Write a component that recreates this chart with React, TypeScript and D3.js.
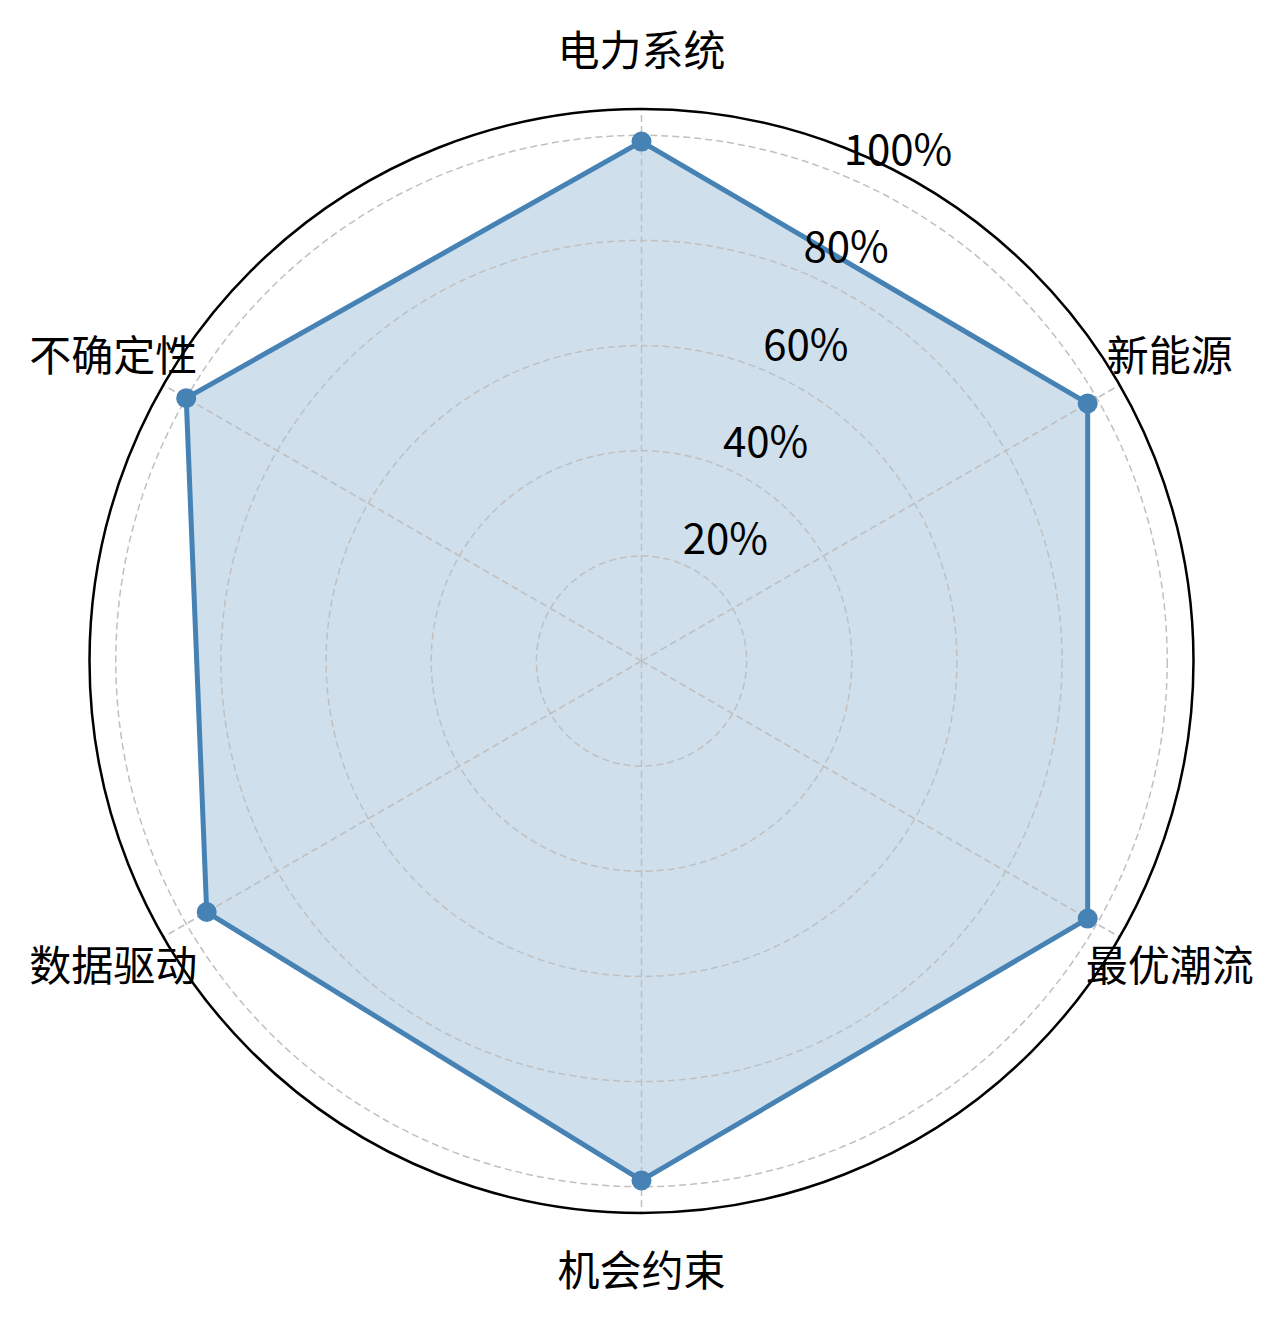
import React from "react";
import * as d3 from "d3";

const categories: string[] = ["电力系统", "新能源", "最优潮流", "机会约束", "数据驱动", "不确定性"];
const values: number[] = [0.988, 0.98, 0.98, 0.988, 0.955, 1.0];
const tickValues: number[] = [0.2, 0.4, 0.6, 0.8, 1.0];
const tickLabels: string[] = ["20%", "40%", "60%", "80%", "100%"];

const W = 1283;
const H = 1324;
const CX = 641.5;
const CY = 661;
const OUTER = 552;
const RMAX = 1.05;
const FONT = "'Noto Sans CJK SC', 'Noto Sans', sans-serif";
const BLUE = "#4682b4";

export default function App() {
  const r = d3.scaleLinear().domain([0, RMAX]).range([0, OUTER]);
  const angle = d3
    .scaleLinear()
    .domain([0, categories.length])
    .range([0, 2 * Math.PI]);
  const pt = (a: number, rad: number): [number, number] => [
    CX + rad * Math.sin(a),
    CY - rad * Math.cos(a),
  ];

  const lineGen = d3
    .lineRadial<number>()
    .angle((_, i) => angle(i))
    .radius((d) => r(d))
    .curve(d3.curveLinearClosed);
  const pathD = lineGen(values) || "";

  const labelAngle = (22.5 * Math.PI) / 180;

  return (
    <svg
      width={W}
      height={H}
      style={{ position: "absolute", left: 0, top: 0, background: "#fff" }}
      fontFamily={FONT}
    >
      <g transform={`translate(${CX},${CY})`}>
        <path d={pathD} fill={BLUE} fillOpacity={0.26} stroke="none" />
      </g>
      {tickValues.map((t) => (
        <circle
          key={"g" + t}
          cx={CX}
          cy={CY}
          r={r(t)}
          fill="none"
          stroke="#c0c0c0"
          strokeWidth={1.5}
          strokeDasharray="7,4"
        />
      ))}
      {categories.map((c, i) => {
        const [x, y] = pt(angle(i), OUTER);
        return (
          <line
            key={"s" + c}
            x1={CX}
            y1={CY}
            x2={x}
            y2={y}
            stroke="#c0c0c0"
            strokeWidth={1.5}
            strokeDasharray="7,4"
          />
        );
      })}
      <g transform={`translate(${CX},${CY})`}>
        <path d={pathD} fill="none" stroke={BLUE} strokeWidth={5} strokeLinejoin="miter" />
      </g>
      {values.map((v, i) => {
        const [x, y] = pt(angle(i), r(v));
        return <circle key={"m" + i} cx={x} cy={y} r={10} fill={BLUE} />;
      })}
      <circle cx={CX} cy={CY} r={OUTER} fill="none" stroke="#000" strokeWidth={2.5} />
      {tickValues.map((t, i) => {
        const [x, y] = pt(labelAngle, r(t));
        return (
          <text key={"t" + t} x={x + 1} y={y - 10} fontSize={42} fill="#000" textAnchor="start">
            {tickLabels[i]}
          </text>
        );
      })}
      {categories.map((c, i) => {
        const [x, y] = pt(angle(i), 610);
        return (
          <text
            key={"c" + c}
            x={x}
            y={y - 4}
            fontSize={42}
            fill="#000"
            textAnchor="middle"
            dominantBaseline="central"
          >
            {c}
          </text>
        );
      })}
    </svg>
  );
}
